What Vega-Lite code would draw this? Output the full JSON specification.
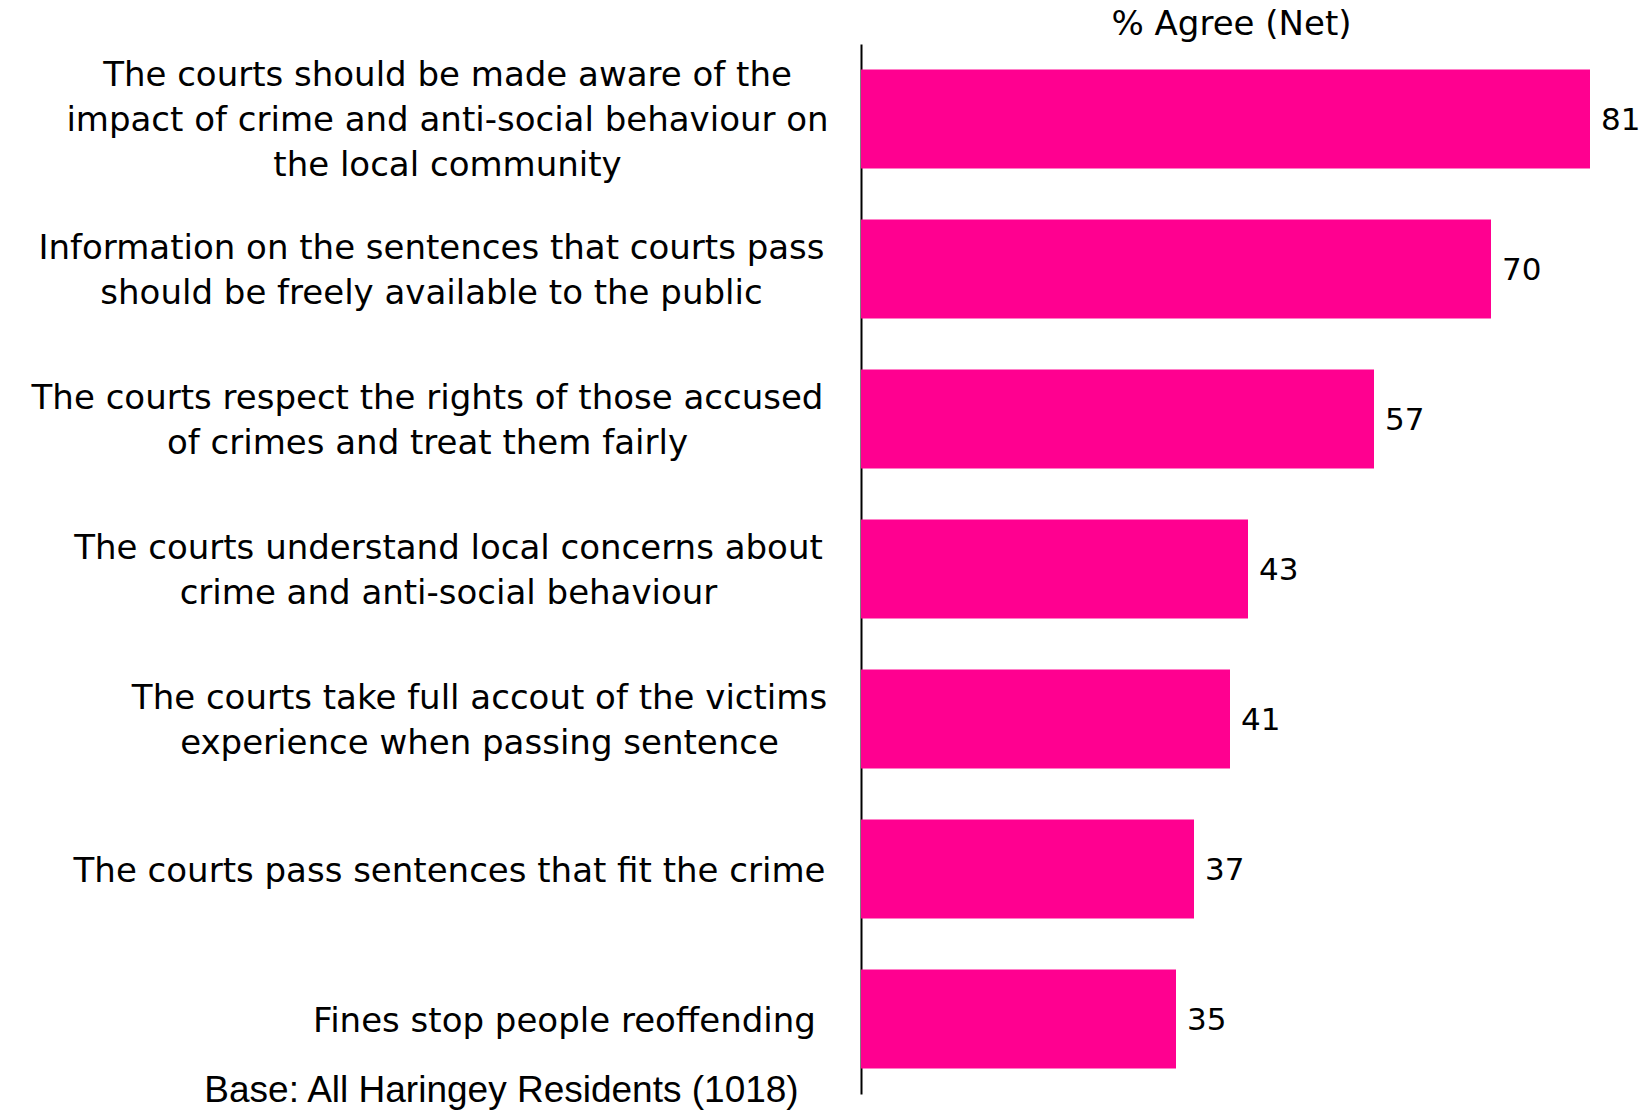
{
  "$schema": "https://vega.github.io/schema/vega-lite/v6.json",
  "autosize": {"type": "none"},
  "width": 765,
  "height": 1050,
  "padding": {"left": 861, "top": 44, "right": 21, "bottom": 16},
  "background": "white",
  "config": {"view": {"stroke": null}, "font": "DejaVu Sans"},
  "title": {"text": "% Agree (Net)", "font": "DejaVu Sans", "fontSize": 34, "fontWeight": "normal", "color": "black", "anchor": "middle", "baseline": "middle", "offset": 10, "dx": -12, "dy": 25},
  "data": {"values": [
    {"statement": "The courts should be made aware of the|impact of crime and anti-social behaviour on|the local community", "agree": 81},
    {"statement": "Information on the sentences that courts pass|should be freely available to the public", "agree": 70},
    {"statement": "The courts respect the rights of those accused|of crimes and treat them fairly", "agree": 57},
    {"statement": "The courts understand local concerns about|crime and anti-social behaviour", "agree": 43},
    {"statement": "The courts take full accout of the victims|experience when passing sentence", "agree": 41},
    {"statement": "The courts pass sentences that fit the crime", "agree": 37},
    {"statement": "Fines stop people reoffending", "agree": 35}
  ]},
  "encoding": {
    "y": {"field": "statement", "type": "nominal", "sort": null,
      "scale": {"paddingInner": 0.34, "paddingOuter": 0.17},
      "axis": {"title": null, "ticks": false, "domain": true, "domainColor": "black", "domainWidth": 2,
        "labelExpr": "split(datum.label, '|')", "labelAlign": "center", "labelBaseline": "middle",
        "labelPadding": {"expr": "[414, 430, 434, 413, 382, 412, 297][round(datum.index * 6)]"},
        "labelOffset": {"expr": "[-43, -20, -20, -20, -20, 2.5, 2.5][round(datum.index * 6)]"},
        "labelFont": "DejaVu Sans", "labelFontSize": 34, "labelColor": "black",
        "labelLineHeight": 45, "labelLimit": 0
      }
    },
    "x": {"field": "agree", "type": "quantitative",
      "scale": {"domain": [0, 85], "nice": false, "zero": true},
      "axis": {"orient": "bottom", "labels": false, "ticks": false, "domain": false, "grid": false,
        "title": "Base:  All Haringey Residents (1018)", "titleFont": "Liberation Sans", "titleFontSize": 37,
        "titleFontWeight": "normal", "titleColor": "black", "titleX": -360, "titleY": -4, "titleAlign": "center", "titleBaseline": "middle", "titleAnchor": "start"}
    }
  },
  "layer": [
    {"mark": {"type": "bar", "color": "#ff0090"}},
    {"mark": {"type": "text", "align": "left", "baseline": "middle", "dx": 11, "dy": 2, "font": "DejaVu Sans", "fontSize": 31, "color": "black"},
     "encoding": {"text": {"field": "agree", "type": "quantitative"}}}
  ]
}
